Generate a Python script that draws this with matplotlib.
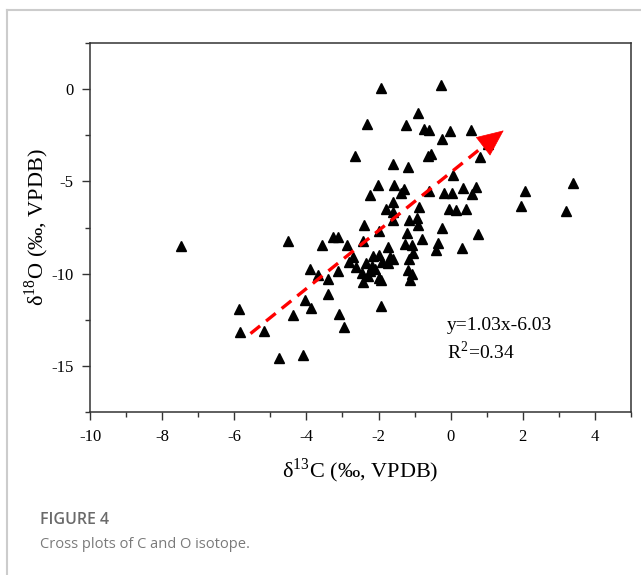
import matplotlib
matplotlib.use("Agg")
import matplotlib.pyplot as plt
from matplotlib.ticker import MultipleLocator
from matplotlib.lines import Line2D

# ---- data ----
d13C = [-7.48, -1.93, -0.28, -0.90, -2.33, -1.24, -0.74, -0.59, -0.02, 0.55,
        -0.25, 1.04, -2.65, -0.62, -0.55, 0.81, -1.61, -1.18, 0.07, -2.01,
        -1.57, -1.29, -1.39, -0.59, -2.24, -0.19, 0.03, 0.33, 0.70, 0.58,
        2.06, 3.40, 1.96, 3.20, -1.61, -1.79, -1.61, -0.87, -0.04, 0.15,
        0.42, -1.61, -1.15, -0.94, -0.90, -2.41, -1.98, -0.25, -1.22, 0.75,
        -3.25, -3.12, -4.51, -3.58, -2.87, -2.42, -0.80, -0.36, -1.27, -1.08,
        -0.40, 0.31, -1.73, -1.04, -2.15, -1.98, -1.68, -1.60, -2.81, -2.70,
        -2.63, -2.35, -2.19, -1.91, -1.73, -1.15, -2.47, -2.24, -2.10, -2.28,
        -3.12, -1.18, -2.42, -1.93, -2.00, -3.39, -1.13, -1.06, -3.39, -3.91,
        -3.68, -4.04, -3.86, -3.10, -4.36, -2.95, -1.93, -5.87, -5.84, -5.17,
        -4.75, -4.10]
d18O = [-8.48, 0.05, 0.23, -1.31, -1.89, -1.95, -2.18, -2.22, -2.26, -2.20,
        -2.70, -2.98, -3.63, -3.60, -3.50, -3.66, -4.06, -4.21, -4.66, -5.20,
        -5.20, -5.43, -5.61, -5.50, -5.74, -5.65, -5.65, -5.38, -5.29, -5.69,
        -5.52, -5.09, -6.32, -6.61, -6.10, -6.50, -6.64, -6.37, -6.48, -6.55,
        -6.52, -7.09, -7.09, -7.00, -7.37, -7.35, -7.69, -7.55, -7.80, -7.87,
        -8.03, -8.03, -8.25, -8.45, -8.45, -8.21, -8.12, -8.34, -8.40, -8.45,
        -8.74, -8.59, -8.58, -8.90, -9.05, -8.99, -9.12, -9.20, -9.39, -9.12,
        -9.66, -9.44, -9.59, -9.35, -9.44, -9.23, -9.99, -9.84, -9.77, -10.13,
        -9.84, -9.81, -10.44, -10.35, -10.22, -10.31, -10.35, -10.02, -11.11, -9.75,
        -10.05, -11.41, -11.88, -12.18, -12.22, -12.91, -11.77, -11.91, -13.18, -13.10,
        -14.60, -14.39]

xticks = [-10, -8, -6, -4, -2, 0, 2, 4]
yticks = [0, -5, -10, -15]
eq_text = "y=1.03x-6.03"
r2_text = "R$^{\\mathregular{2}}$=0.34"
arrow_start = (-5.55, -13.25)
arrow_base = (1.00, -2.95)
arrow_tip = (1.47, -2.24)

plt.rcParams['axes.unicode_minus'] = False
plt.rcParams['mathtext.fontset'] = 'stix'
serif = 'Liberation Serif'

fig = plt.figure(figsize=(6.41, 5.75), dpi=100)
ax = fig.add_axes([90/641, 1 - 412/575, 541/641, 369/575])

ax.plot(d13C, d18O, linestyle='none', marker='^', ms=7.8, color='black')

# trend arrow
ax.plot([arrow_start[0], arrow_base[0]], [arrow_start[1], arrow_base[1]],
        color='red', lw=2.4, dashes=(3.7, 2.3), solid_capstyle='butt')
ax.annotate('', xy=arrow_tip, xytext=arrow_base,
            arrowprops=dict(arrowstyle='-|>,head_length=0.9,head_width=0.4',
                            color='red', lw=0.5, mutation_scale=20,
                            shrinkA=0, shrinkB=0))

ax.text(-0.1, -12.79, eq_text, fontsize=14, family=serif, ha='left', va='center')
ax.text(-0.1, -14.25, r2_text, fontsize=14, family=serif, ha='left', va='center')

ax.set_xlim(-10, 5)
ax.set_ylim(-17.5, 2.5)
ax.set_xticks(xticks)
ax.set_yticks(yticks)
ax.xaxis.set_minor_locator(MultipleLocator(1))
ax.yaxis.set_minor_locator(MultipleLocator(2.5))
ax.tick_params(which='both', direction='out', top=False, right=False,
               color='#333333', width=1.0)
ax.tick_params(which='major', length=6, labelsize=12, pad=6)
ax.tick_params(which='minor', length=3.5)
for lab in ax.get_xticklabels() + ax.get_yticklabels():
    lab.set_family(serif)
for sp in ax.spines.values():
    sp.set_linewidth(1.1)
    sp.set_color('#333333')

ax.set_xlabel("δ$^{\\mathregular{13}}$C (‰, VPDB)", fontsize=16, family=serif, labelpad=9)
ax.set_ylabel("δ$^{\\mathregular{18}}$O (‰, VPDB)", fontsize=16, family=serif, labelpad=0)

# card border
fig.add_artist(Line2D([7/641, 1], [1 - 10/575, 1 - 10/575], color='#cccccc', lw=1.5,
                      transform=fig.transFigure))
fig.add_artist(Line2D([7/641, 7/641], [0, 1 - 10/575], color='#cccccc', lw=1.5,
                      transform=fig.transFigure))

fig.text(40/641, 1 - 520/575, "FIGURE 4", fontsize=11.5, family='Open Sans',
         fontweight='semibold', color='#6a6a6a', ha='left', va='center')
fig.text(40/641, 1 - 545/575, "Cross plots of C and O isotope.", fontsize=10.5,
         family='Open Sans', color='#7a7a7a', ha='left', va='center')

fig.savefig('out.png', dpi=100)
